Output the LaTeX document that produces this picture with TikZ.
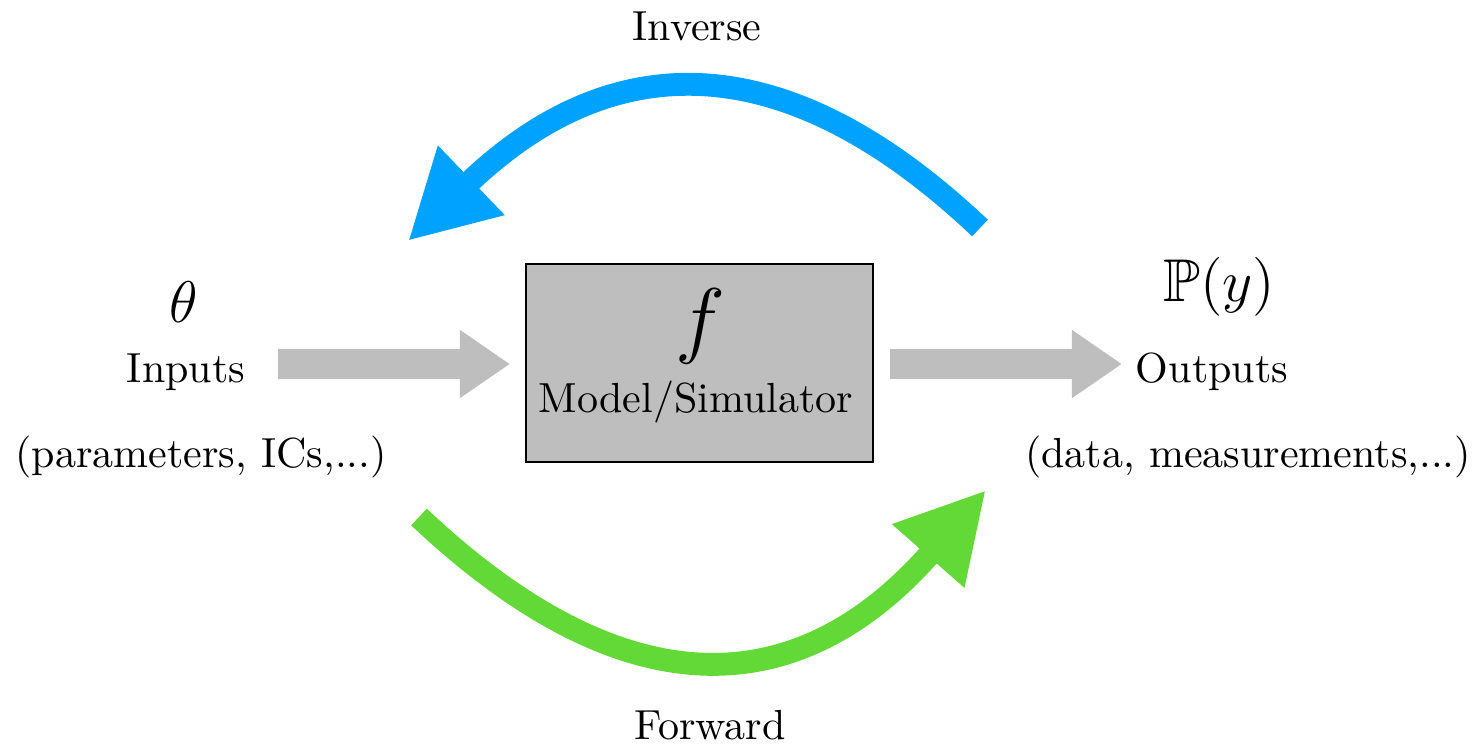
\documentclass[tikz,border=0pt]{standalone}
\usepackage{amssymb}
\usetikzlibrary{arrows.meta}
\definecolor{invblue}{RGB}{0,162,255}
\definecolor{fwdgreen}{RGB}{98,217,54}
\definecolor{boxgray}{RGB}{190,190,190}
\begin{document}
\begin{tikzpicture}[x=0.245pt,y=-0.245pt,
  txt/.style={font=\fontsize{10.3}{12}\selectfont, inner sep=0pt, anchor=base},
  mathlbl/.style={font=\fontsize{14.8}{17}\selectfont, inner sep=0pt, anchor=center},
  grayarrow/.style={draw=boxgray, line width=7.3pt, -{Triangle[length=12.3pt,width=15.9pt]}},
  bigarrow/.style={line width=5.6pt, -{Triangle[length=21.5pt,width=22pt]}},
  modelbox/.style={draw=black, fill=boxgray, line width=0.4pt, minimum width=85pt, minimum height=48.5pt, inner sep=0pt},
]
\useasboundingbox (0,0) rectangle (1475,744);

% model box
\node[modelbox] (model) at (699.5,363) {};
\node[inner sep=0pt, font=\fontsize{20.7}{24}\selectfont] (f) at (700,326) {$f$};
\node[txt] (modeltxt) at (696,412) {Model/Simulator};

% inputs
\node[mathlbl] (theta) at (184,302) {$\theta$};
\node[txt] (inputs) at (186,382) {Inputs};
\node[txt] (params) at (201,467) {(parameters, ICs,...)};

% outputs
\node[mathlbl] (py) at (1219,287) {$\mathbb{P}(y)$};
\node[txt] (outputs) at (1212,382) {Outputs};
\node[txt] (data) at (1248,467) {(data, measurements,...)};

% labels
\node[txt] (inverse) at (697,40) {Inverse};
\node[txt] (forward) at (710,739) {Forward};

% gray arrows
\coordinate (inA) at (278,364);
\coordinate (inB) at (510,364);
\coordinate (outA) at (890,364);
\coordinate (outB) at (1122,364);
\draw[grayarrow] (inA) -- (inB);
\draw[grayarrow] (outA) -- (outB);

% inverse arrow
\coordinate (invS) at (980,228);
\coordinate (invE) at (408,241);
\draw[bigarrow, draw=invblue] (invS) .. controls (777,36) and (605,52) .. (invE);

% forward arrow
\coordinate (fwdS) at (419,517);
\coordinate (fwdE) at (986,490);
\draw[bigarrow, draw=fwdgreen] (fwdS) .. controls (628,714) and (801,701) .. (fwdE);
\end{tikzpicture}
\end{document}
